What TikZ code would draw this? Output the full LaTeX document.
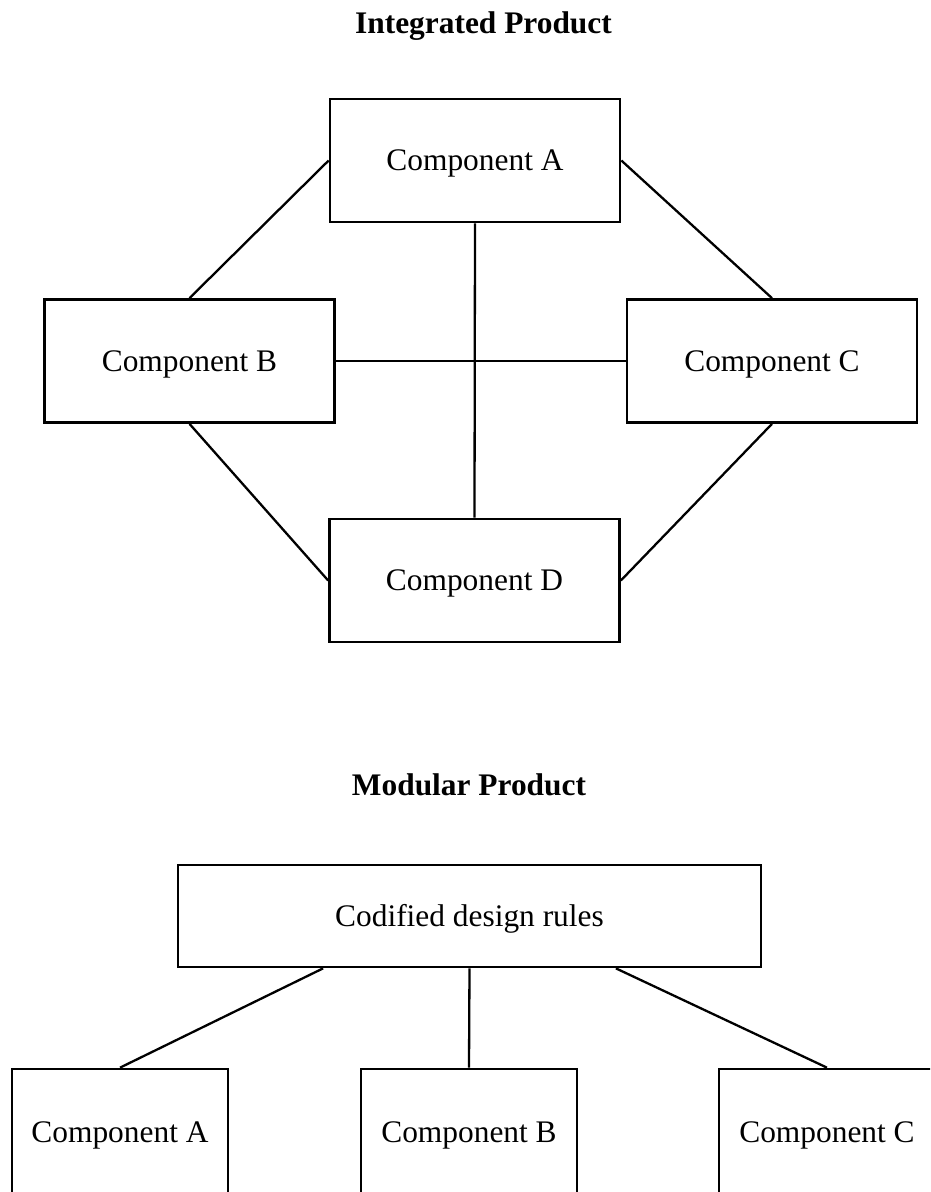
\documentclass[tikz,border=0pt]{standalone}
\usepackage{fontspec}
\setmainfont{Liberation Serif}
\usetikzlibrary{calc}
\begin{document}
\begin{tikzpicture}[x=1pt,y=-1pt,
  box/.style={draw=black,line width=2.7pt,rectangle,inner sep=0pt,
    font=\fontsize{31.4}{36}\selectfont,text height=20.8pt,text depth=0pt},
  bigbox/.style={box,minimum width=290pt,minimum height=123pt},
  smallbox/.style={box,minimum width=216pt,minimum height=126pt},
  rulebox/.style={box,minimum width=583pt,minimum height=102pt},
  title/.style={font=\fontsize{31.4}{36}\selectfont\bfseries,anchor=base,inner sep=0pt},
  link/.style={draw=black,line width=2.3pt}]
\useasboundingbox (0,0) rectangle (930,1192);
\clip (0,0) rectangle (930,1192);
\fill[white] (0,0) rectangle (930,1192);
% Integrated product
\node[title] (t1) at (483.5,33) {Integrated Product};
\node[bigbox] (iA) at (475,160.5) {Component A};
\node[bigbox] (iB) at (189.5,361) {Component B};
\node[bigbox] (iC) at (772,361) {Component C};
\node[bigbox] (iD) at (474.5,580.5) {Component D};
\draw[link] (iA.west) -- (iB.north);
\draw[link] (iA.east) -- (iC.north);
\draw[link] (iB.south) -- (iD.west);
\draw[link] (iC.south) -- (iD.east);
\draw[link] (iA.south) -- (iD.north);
\draw[link] (iB.east) -- (iC.west);
% Modular product
\node[title] (t2) at (469,795) {Modular Product};
\node[rulebox] (rules) at (469.5,916) {Codified design rules};
\node[smallbox] (mA) at (120,1132) {Component A};
\node[smallbox] (mB) at (469,1132) {Component B};
\node[smallbox] (mC) at (827,1132) {Component C};
\draw[link] ($(rules.south)!0.5!(rules.south west)$) -- (mA.north);
\draw[link] (rules.south) -- (mB.north);
\draw[link] ($(rules.south)!0.5!(rules.south east)$) -- (mC.north);
\end{tikzpicture}
\end{document}
